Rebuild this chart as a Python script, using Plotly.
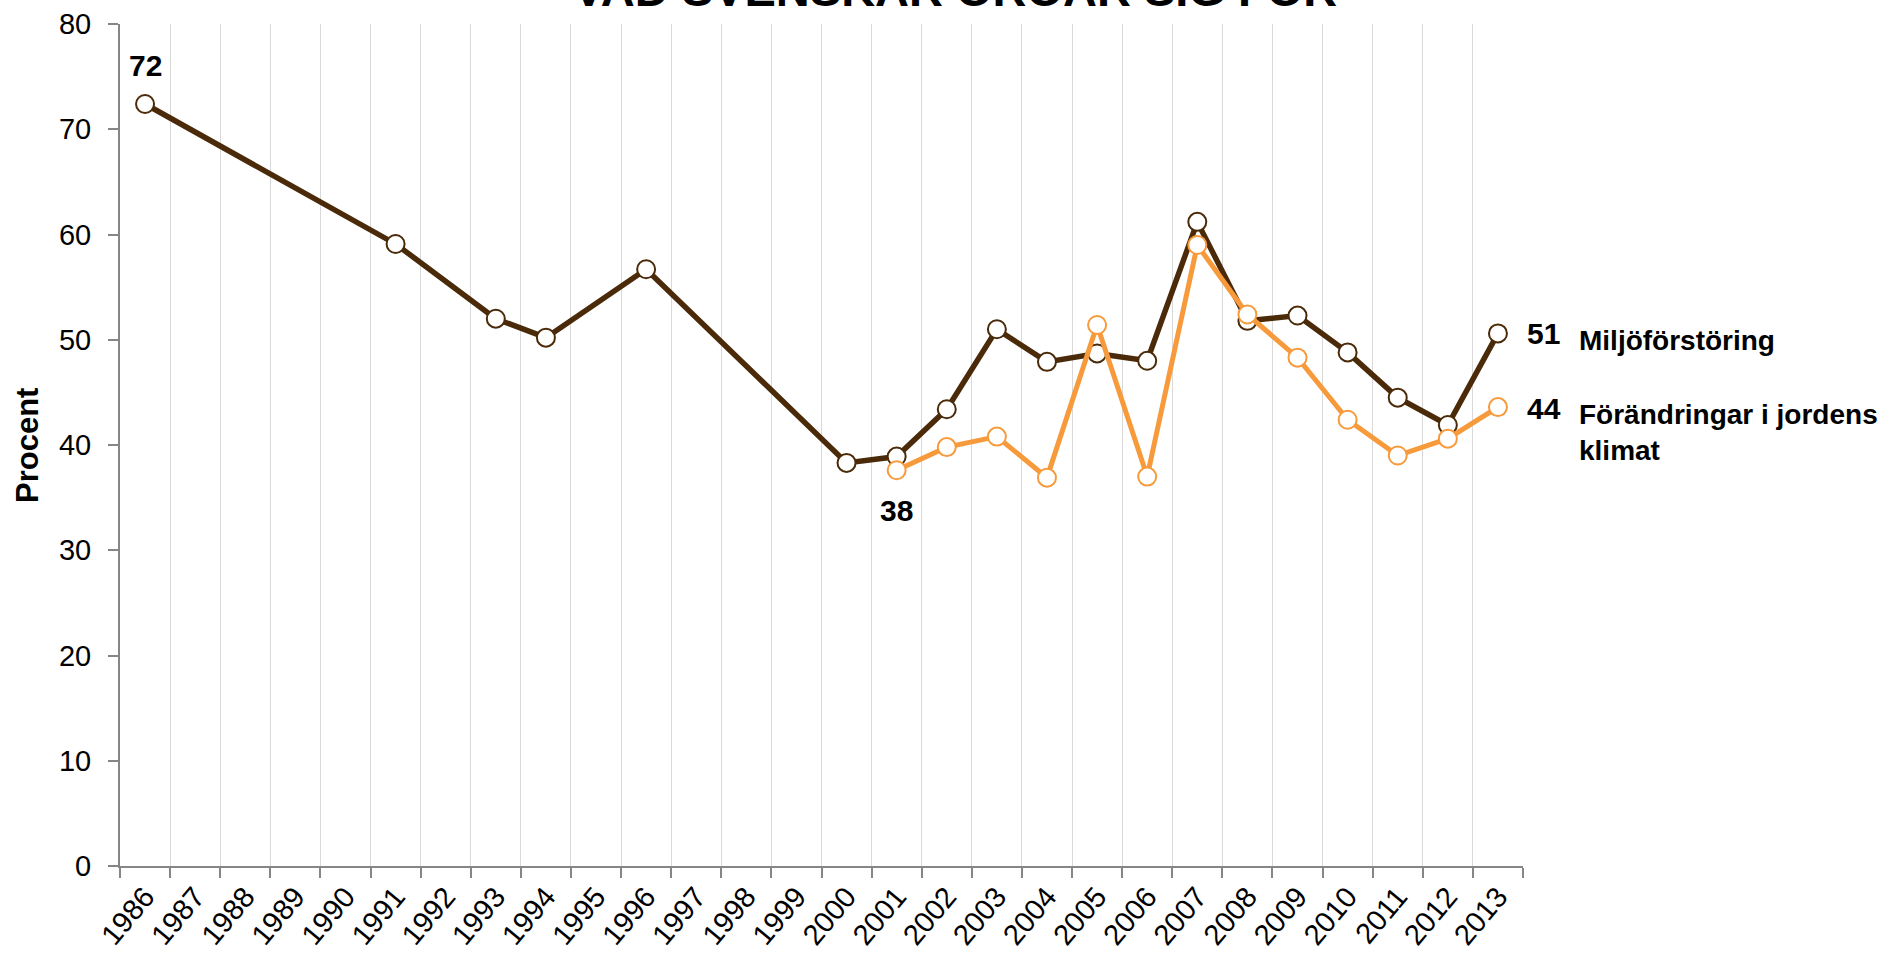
import plotly.graph_objects as go

# ---- data ----
categories = [str(y) for y in range(1986, 2014)]

miljo_years = ["1986", "1991", "1993", "1994", "1996", "2000", "2001", "2002", "2003",
               "2004", "2005", "2006", "2007", "2008", "2009", "2010", "2011", "2012", "2013"]
miljo_vals = [72.4, 59.1, 52.0, 50.2, 56.7, 38.3, 38.9, 43.4, 51.0,
              47.9, 48.7, 48.0, 61.2, 51.8, 52.3, 48.8, 44.5, 41.9, 50.6]

klimat_years = ["2001", "2002", "2003", "2004", "2005", "2006", "2007",
                "2008", "2009", "2010", "2011", "2012", "2013"]
klimat_vals = [37.6, 39.8, 40.8, 36.9, 51.4, 37.0, 59.0, 52.4, 48.3, 42.4, 39.0, 40.6, 43.6]

series_names = ["Miljöförstöring", "Förändringar i jordens<br>klimat"]
title_text = "VAD SVENSKAR OROAR SIG FÖR"
y_title = "Procent"

DARK = "#4A2A08"
ORANGE = "#F79A3C"
FONT = "Arial, Liberation Sans, sans-serif"

W, H = 1893, 956
ML, MT = 120, 24
PW, PH = 1403, 842

fig = go.Figure()
fig.add_trace(go.Scatter(
    x=miljo_years, y=miljo_vals, mode="lines+markers", name=series_names[0],
    line=dict(color=DARK, width=5.5),
    marker=dict(symbol="circle", size=18, color="white", line=dict(color=DARK, width=2)),
))
fig.add_trace(go.Scatter(
    x=klimat_years, y=klimat_vals, mode="lines+markers", name=series_names[1],
    line=dict(color=ORANGE, width=5),
    marker=dict(symbol="circle", size=18, color="white", line=dict(color=ORANGE, width=2)),
))

lab_font = dict(family=FONT, size=30, color="black")
ann = []
ann.append(dict(x=categories.index(miljo_years[0]), y=miljo_vals[0], xref="x", yref="y",
                text=f"<b>{miljo_vals[0]:.0f}</b>", showarrow=False, font=lab_font,
                yshift=38))
ann.append(dict(x=categories.index(klimat_years[0]), y=klimat_vals[0], xref="x", yref="y",
                text=f"<b>{klimat_vals[0]:.0f}</b>", showarrow=False, font=lab_font,
                yshift=-40))
ann.append(dict(x=1.0, y=miljo_vals[-1], xref="paper", yref="y", xanchor="left",
                text=f"<b>{miljo_vals[-1]:.0f}</b>", showarrow=False, font=lab_font,
                xshift=2, yshift=0))
ann.append(dict(x=1.0, y=klimat_vals[-1], xref="paper", yref="y", xanchor="left",
                text=f"<b>{klimat_vals[-1]:.0f}</b>", showarrow=False, font=lab_font,
                xshift=2, yshift=-1))
name_font = dict(family=FONT, size=28, color="black")
ann.append(dict(x=1.0, y=miljo_vals[-1], xref="paper", yref="y", xanchor="left", align="left",
                text=f"<b>{series_names[0]}</b>", showarrow=False, font=name_font,
                xshift=54, yshift=-7))
ann.append(dict(x=1.0, y=klimat_vals[-1], xref="paper", yref="y", xanchor="left", align="left",
                text=f"<b>{series_names[1].replace('<br>', '</b><br><b>')}</b>", showarrow=False,
                font=name_font, xshift=54, yshift=-25))
ann.append(dict(x=0.595, y=1.0404, xref="paper", yref="paper", xanchor="center", yanchor="middle",
                text=f"<b>{title_text}</b>", showarrow=False,
                font=dict(family=FONT, size=47, color="black")))
ann.append(dict(x=-0.0663, y=0.5, xref="paper", yref="paper", xanchor="center", yanchor="middle",
                text=f"<b>{y_title}</b>", textangle=-90, showarrow=False,
                font=dict(family=FONT, size=31, color="black")))

fig.update_layout(
    width=W, height=H,
    margin=dict(l=ML, r=W - ML - PW, t=MT, b=H - MT - PH, autoexpand=False),
    paper_bgcolor="white", plot_bgcolor="white",
    showlegend=False,
    annotations=ann,
    font=dict(family=FONT, color="black"),
)
fig.update_xaxes(
    type="category", categoryorder="array", categoryarray=categories,
    range=[-0.5, len(categories) - 0.5],
    tickson="boundaries", ticks="outside", ticklen=10, tickcolor="#868686", tickwidth=2,
    showgrid=True, gridcolor="#D9D9D9", gridwidth=1.2,
    showline=True, linecolor="#868686", linewidth=2,
    tickangle=-50, tickfont=dict(family=FONT, size=29, color="black"),
    zeroline=False, automargin=False,
)
fig.update_yaxes(
    range=[0, 80], dtick=10, tick0=0,
    ticks="outside", ticklen=10, tickcolor="#868686", tickwidth=2,
    showgrid=False, zeroline=False,
    showline=True, linecolor="#868686", linewidth=2,
    tickfont=dict(family=FONT, size=29, color="black"),
    ticklabelstandoff=11, automargin=False,
)

fig.write_html("out.html",
               config={"displayModeBar": False},
               post_script="document.body.style.margin='0';document.body.style.overflow='hidden';")
